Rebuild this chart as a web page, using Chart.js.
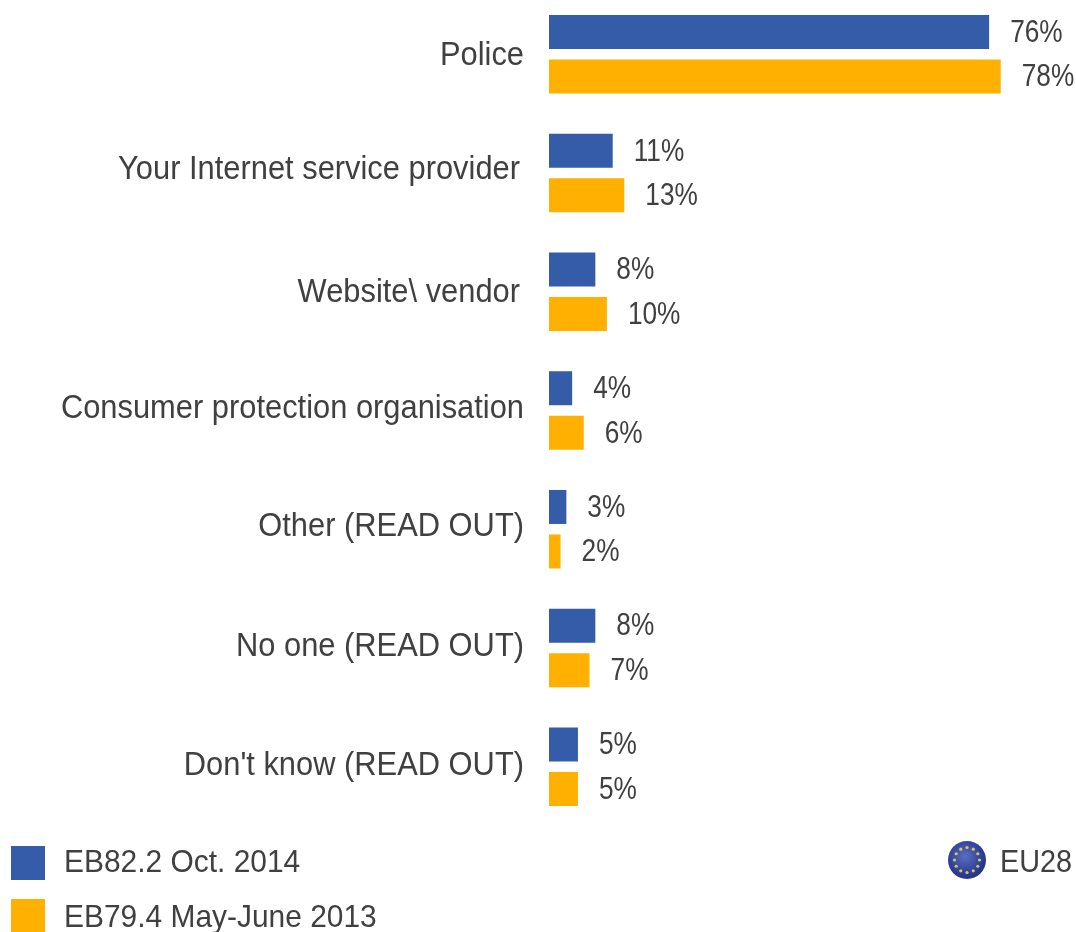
<!DOCTYPE html>
<html><head><meta charset="utf-8">
<script src="https://cdn.jsdelivr.net/npm/chart.js@4"></script>
<style>
html,body{margin:0;padding:0;background:#fff;width:1076px;height:932px;overflow:hidden}
#wrap{position:absolute;left:0;top:-5px;width:1076px;height:831px;filter:blur(.7px)}
.t{position:absolute;font-family:"Liberation Sans",Arial,sans-serif;font-size:32px;color:#404040;white-space:nowrap;line-height:36px;transform:scaleX(.935);transform-origin:left center;filter:blur(.7px)}
.s{position:absolute;width:34px;height:34px;filter:blur(.5px)}
#eu{position:absolute;left:948px;top:841px;width:38px;height:38px;border-radius:50%;background:radial-gradient(circle at 45% 40%,#5a6fc0 0,#2a3a96 60%,#1a2470 100%);filter:blur(.7px)}
#eu svg{position:absolute;left:0;top:0}
</style></head><body>
<div id="wrap"><canvas id="c" width="1076" height="831"></canvas></div>
<div class="s" style="left:11px;top:846px;background:#345ca8"></div>
<div class="t" style="left:64px;top:843px">EB82.2 Oct. 2014</div>
<div class="s" style="left:11px;top:899px;background:#ffb000"></div>
<div class="t" style="left:64px;top:898px">EB79.4 May-June 2013</div>
<div id="eu"><svg width="38" height="38" id="stars"></svg></div>
<div class="t" style="left:1000px;top:843px;transform:scaleX(.9)">EU28</div>
<script>
const categories=["Police","Your Internet service provider","Website\\ vendor","Consumer protection organisation","Other (READ OUT)","No one (READ OUT)","Don't know (READ OUT)"];
const oct2014=[76,11,8,4,3,8,5];
const mayJune2013=[78,13,10,6,2,7,5];
const seriesNames=["EB82.2 Oct. 2014","EB79.4 May-June 2013"];
const blue="#345ca8",orange="#ffb000",textCol="#404040";
const font='"Liberation Sans",Arial,sans-serif';

const svgNS="http://www.w3.org/2000/svg",st=document.getElementById("stars");
for(let i=0;i<12;i++){const a=i*Math.PI/6,c=document.createElementNS(svgNS,"circle");
c.setAttribute("cx",19+12.5*Math.cos(a));c.setAttribute("cy",19+12.5*Math.sin(a));c.setAttribute("r",1.6);c.setAttribute("fill","#d8c850");st.appendChild(c);}

const catRight=[524,520,520,524,524,524,524];
const catDy=[2,-3,1,-2,-2,-1,-1];
const labelPlugin={id:"labels",afterDatasetsDraw(chart){
  const {ctx,scales:{y}}=chart;
  ctx.save();ctx.fillStyle=textCol;ctx.textBaseline="middle";
  ctx.font='33px '+font;
  categories.forEach((c,i)=>{ctx.save();ctx.translate(catRight[i],y.getPixelForValue(i)+catDy[i]);ctx.scale(.935,1);ctx.textAlign="right";ctx.fillText(c,0,0);ctx.restore();});
  ctx.font='32px '+font;
  chart.data.datasets.forEach((ds,di)=>{
    chart.getDatasetMeta(di).data.forEach((b,i)=>{
      ctx.save();ctx.translate(b.x+21,b.y+1);ctx.scale(.82,1);ctx.textAlign="left";ctx.fillText(ds.data[i]+"%",0,0);ctx.restore();
    });
  });
  ctx.restore();
}};

new Chart(document.getElementById("c"),{
  type:"bar",
  plugins:[labelPlugin],
  data:{labels:categories,datasets:[
    {label:seriesNames[0],data:oct2014,backgroundColor:blue},
    {label:seriesNames[1],data:mayJune2013,backgroundColor:orange}
  ]},
  options:{
    indexAxis:"y",responsive:false,animation:false,
    layout:{padding:{left:549,right:0,top:0,bottom:0}},
    plugins:{legend:{display:false},tooltip:{enabled:false}},
    datasets:{bar:{categoryPercentage:.75,barPercentage:.764}},
    scales:{
      x:{display:false,min:0,max:91},
      y:{display:false,grid:{display:false}}
    }
  }
});
</script>
</body></html>
